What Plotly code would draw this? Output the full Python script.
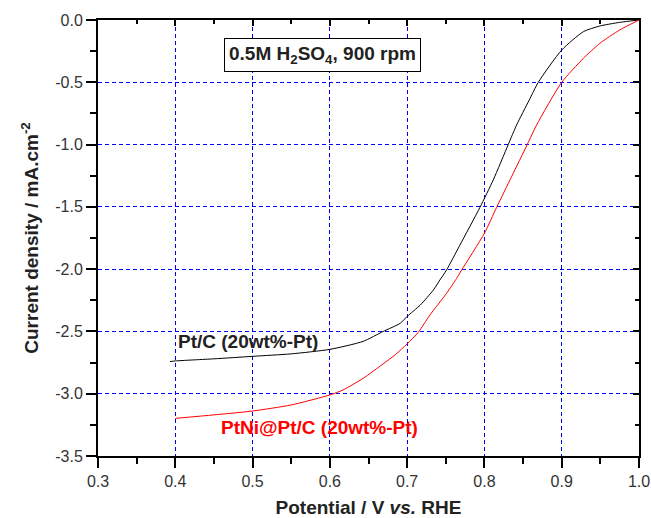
import plotly.graph_objects as go

# Pt/C (20wt%-Pt) — black
ptc_x = [0.393, 0.40, 0.45, 0.50, 0.55, 0.60, 0.643, 0.669, 0.691, 0.70, 0.717, 0.734, 0.7424, 0.751, 0.768,
         0.7942, 0.8114, 0.8308, 0.8416, 0.858, 0.8697, 0.90, 0.928, 0.9494, 0.975, 1.0]
ptc_y = [-2.742, -2.737, -2.72, -2.70, -2.68, -2.644, -2.58, -2.50, -2.435, -2.38, -2.288, -2.167, -2.087, -2.007, -1.81,
         -1.504, -1.284, -1.0, -0.843, -0.642, -0.5, -0.241, -0.094, -0.048, -0.019, 0.0]

# PtNi@Pt/C (20wt%-Pt) — red
ptni_x = [0.40, 0.45, 0.50, 0.55, 0.60, 0.617, 0.643, 0.669, 0.685, 0.70, 0.7144, 0.7295, 0.751, 0.764, 0.7705,
          0.80, 0.8158, 0.8351, 0.8554, 0.8675, 0.90, 0.928, 0.9494, 0.975, 1.0]
ptni_y = [-3.198, -3.17, -3.139, -3.09, -3.01, -2.97, -2.877, -2.76, -2.685, -2.60, -2.507, -2.368, -2.194, -2.074, -2.007,
          -1.712, -1.504, -1.258, -1.0, -0.843, -0.5, -0.308, -0.187, -0.08, 0.0]

x_ticks = [0.3, 0.4, 0.5, 0.6, 0.7, 0.8, 0.9, 1.0]
x_labels = ["0.3", "0.4", "0.5", "0.6", "0.7", "0.8", "0.9", "1.0"]
y_ticks = [0.0, -0.5, -1.0, -1.5, -2.0, -2.5, -3.0, -3.5]
y_labels = ["0.0", "-0.5", "-1.0", "-1.5", "-2.0", "-2.5", "-3.0", "-3.5"]

FONT = "Liberation Sans, Arial, sans-serif"
GRID = "#0000ff"

fig = go.Figure()
fig.add_trace(go.Scatter(x=ptc_x, y=ptc_y, mode="lines",
                         line=dict(color="black", width=1, shape="spline", smoothing=0.6),
                         showlegend=False))
fig.add_trace(go.Scatter(x=ptni_x, y=ptni_y, mode="lines",
                         line=dict(color="#ff0000", width=1, shape="spline", smoothing=0.6),
                         showlegend=False))
# invisible trace for the mirror axes
fig.add_trace(go.Scatter(x=[0.3], y=[-3.5], xaxis="x2", yaxis="y2", mode="markers",
                         marker=dict(opacity=0), showlegend=False, hoverinfo="skip"))

fig.update_layout(
    width=651, height=518,
    margin=dict(l=98, r=12, t=20, b=62),
    paper_bgcolor="white", plot_bgcolor="white",
    font=dict(family=FONT, color="#333333", size=16),
    xaxis=dict(range=[0.3, 1.0], tickvals=x_ticks, ticktext=x_labels, automargin=False,
               ticks="outside", ticklen=10, tickwidth=1.5, tickcolor="black",
               showline=True, linewidth=2, linecolor="black", mirror=True,
               showgrid=True, gridcolor=GRID, gridwidth=1, griddash="4px,3px",
               zeroline=False,
               minor=dict(dtick=0.05, tick0=0.3, ticks="outside", ticklen=6, tickwidth=1.5,
                          tickcolor="black", showgrid=False),
               title=dict(text="<b>Potential / V <i>vs.</i> RHE</b>", font=dict(size=19, color="#222222"),
                          standoff=13)),
    yaxis=dict(range=[-3.5, 0.0], tickvals=y_ticks, ticktext=y_labels, automargin=False,
               ticks="outside", ticklen=10, tickwidth=1.5, tickcolor="black",
               showline=True, linewidth=2, linecolor="black", mirror=True,
               showgrid=True, gridcolor=GRID, gridwidth=1, griddash="4px,3px",
               zeroline=False,
               minor=dict(dtick=0.25, tick0=0, ticks="outside", ticklen=6, tickwidth=1.5,
                          tickcolor="black", showgrid=False),
               title=dict(text="<b>Current density / mA.cm<sup>-2</sup></b>", font=dict(size=19, color="#222222"),
                          standoff=12)),
    xaxis2=dict(range=[0.3, 1.0], overlaying="x", side="top", anchor="y", tickvals=x_ticks,
                showticklabels=False, ticks="inside", ticklen=6, tickwidth=1.5, tickcolor="black",
                showgrid=False, zeroline=False, automargin=False,
                minor=dict(dtick=0.05, tick0=0.3, ticks="inside", ticklen=4, tickwidth=1.5,
                           tickcolor="black", showgrid=False)),
    yaxis2=dict(range=[-3.5, 0.0], overlaying="y", side="right", anchor="x", tickvals=y_ticks,
                showticklabels=False, ticks="inside", ticklen=6, tickwidth=1.5, tickcolor="black",
                showgrid=False, zeroline=False, automargin=False,
                minor=dict(dtick=0.25, tick0=0, ticks="inside", ticklen=4, tickwidth=1.5,
                           tickcolor="black", showgrid=False)),
    annotations=[
        dict(x=0.59, y=-0.28, xref="x", yref="y",
             text="<b>0.5M H<sub>2</sub>SO<sub>4</sub>, 900 rpm</b>", showarrow=False,
             font=dict(size=19, color="#222222", family=FONT),
             bordercolor="black", borderwidth=1, borderpad=4, bgcolor="white"),
        dict(x=0.401, y=-2.577, xref="x", yref="y", xanchor="left",
             text="<b>Pt/C (20wt%-Pt)</b>", showarrow=False,
             font=dict(size=19, color="#222222", family=FONT)),
        dict(x=0.4565, y=-3.27, xref="x", yref="y", xanchor="left",
             text="<b>PtNi@Pt/C (20wt%-Pt)</b>", showarrow=False,
             font=dict(size=19, color="#ff0000", family=FONT)),
    ],
)

fig.write_html("out.html", config={"displayModeBar": False},
               post_script="document.body.style.margin='0';document.body.style.padding='0';")
